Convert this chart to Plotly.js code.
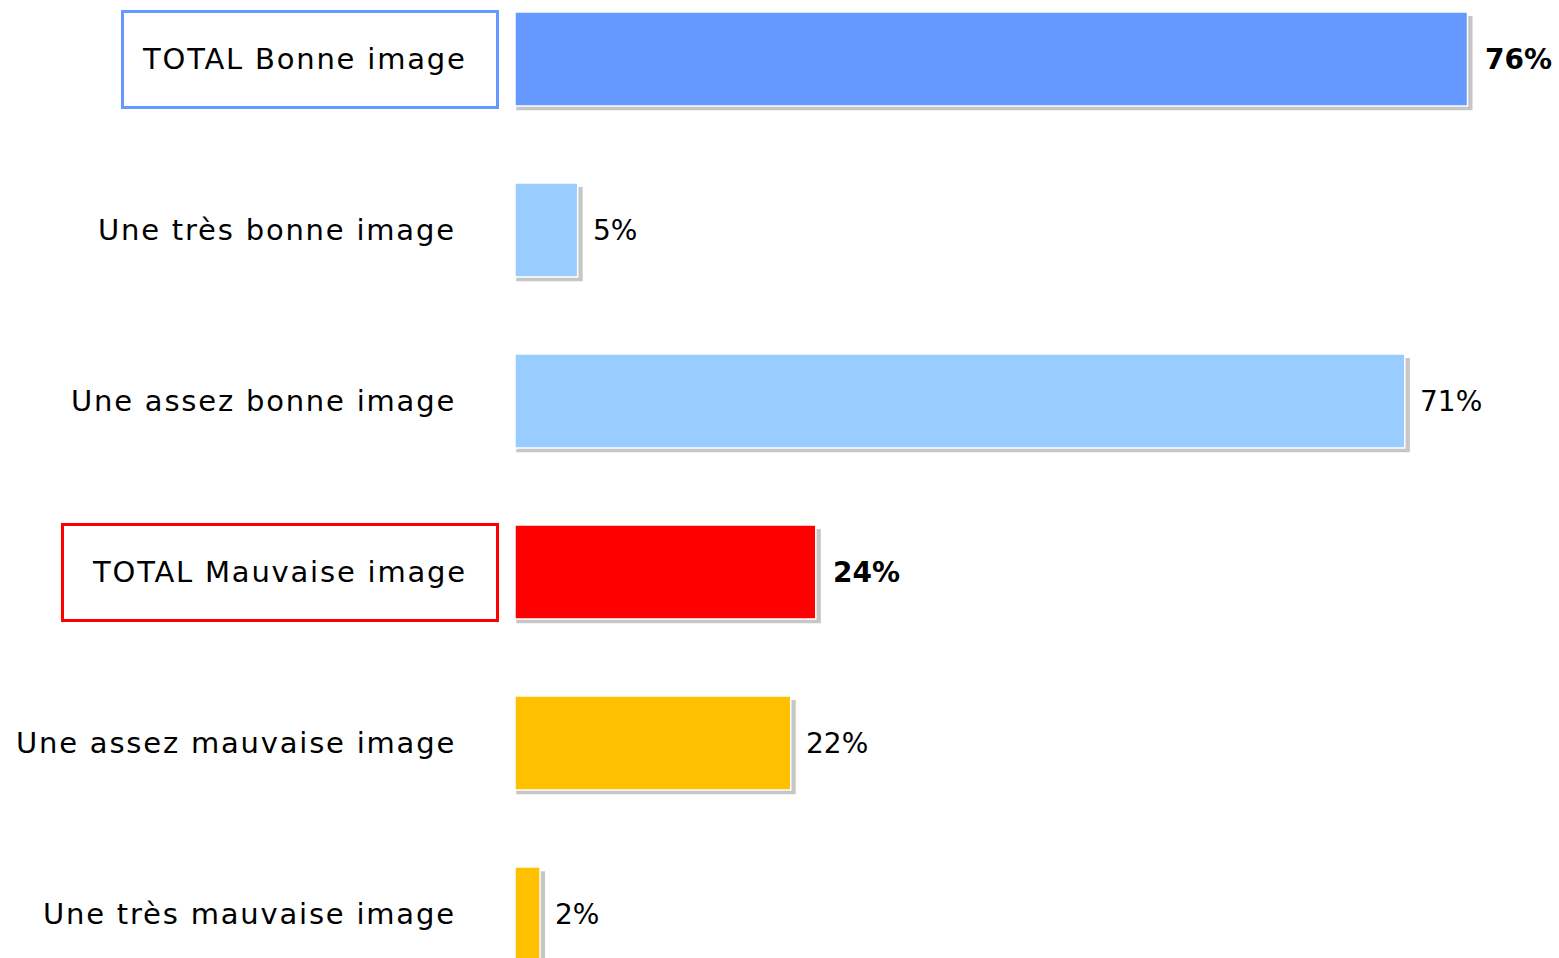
<!DOCTYPE html>
<html><head><meta charset="utf-8">
<script src="https://cdn.plot.ly/plotly-3.0.1.min.js"></script>
<style>html,body{margin:0;padding:0;background:#fff;overflow:hidden}</style>
</head><body><div id="chart" style="width:1559px;height:958px"></div>
<script>
// ---- data ----
const categories = ["TOTAL Bonne image", "Une très bonne image", "Une assez bonne image",
                    "TOTAL Mauvaise image", "Une assez mauvaise image", "Une très mauvaise image"];
const values = [76, 5, 71, 24, 22, 2];
const valueLabels = ["76%", "5%", "71%", "24%", "22%", "2%"];

// ---- styles ----
const barColors = ["#6699FF", "#99CCFF", "#99CCFF", "#FF0000", "#FFC000", "#FFC000"];
const boxStyle = {
  "TOTAL Bonne image": {color: "#6699FF", width: 372},
  "TOTAL Mauvaise image": {color: "#FF0000", width: 432}
};
const FONT = "Tahoma, 'DejaVu Sans', sans-serif";
const BARW = 0.55;

const shadow = {
  type: "bar", orientation: "h", y: categories,
  x: values.map(v => v + 0.3), base: 0.1,
  width: BARW, offset: -BARW / 2 + 0.024,
  marker: {color: "#c6c6c6", line: {width: 0}},
  hoverinfo: "skip", showlegend: false
};
const bars = {
  type: "bar", orientation: "h", y: categories, x: values,
  width: BARW, offset: -BARW / 2,
  marker: {color: barColors, line: {color: "#ffffff", width: 1.5}},
  hoverinfo: "skip", showlegend: false
};

const annotations = [];
categories.forEach((cat, i) => {
  const box = boxStyle[cat];
  const label = `<span style="letter-spacing:1.8px">${cat}</span>`;
  if (box) {
    annotations.push({
      xref: "paper", x: 0, xanchor: "right", xshift: -16,
      yref: "y", y: cat, yanchor: "middle",
      text: " ", showarrow: false,
      width: box.width, height: 93, borderpad: 0, borderwidth: 3,
      bordercolor: box.color, bgcolor: "#ffffff",
      font: {family: FONT, size: 28, color: "#000"}
    });
  }
  annotations.push({
    xref: "paper", x: 0, xanchor: "right", xshift: box ? -46 : -57,
    yref: "y", y: cat, yanchor: "middle",
    text: label, showarrow: false, align: "right",
    font: {family: FONT, size: 29, color: "#000"}
  });
  annotations.push({
    xref: "x", x: values[i], xanchor: "left", xshift: box ? 15 : 13,
    yref: "y", y: cat, yanchor: "middle",
    text: box ? `<b>${valueLabels[i]}</b>` : valueLabels[i],
    showarrow: false,
    font: {family: FONT, size: 28, color: "#000"}
  });
});

const layout = {
  width: 1559, height: 958,
  margin: {l: 515, r: 0, t: 0, b: 0, pad: 0},
  paper_bgcolor: "#ffffff", plot_bgcolor: "#ffffff",
  barmode: "overlay",
  showlegend: false,
  xaxis: {range: [0, 83.3], visible: false, fixedrange: true},
  yaxis: {type: "category", categoryorder: "array", categoryarray: categories,
          range: [5.257, -0.345], visible: false, fixedrange: true},
  annotations: annotations
};

Plotly.newPlot("chart", [shadow, bars], layout, {displayModeBar: false, staticPlot: true});
</script>
</body></html>
